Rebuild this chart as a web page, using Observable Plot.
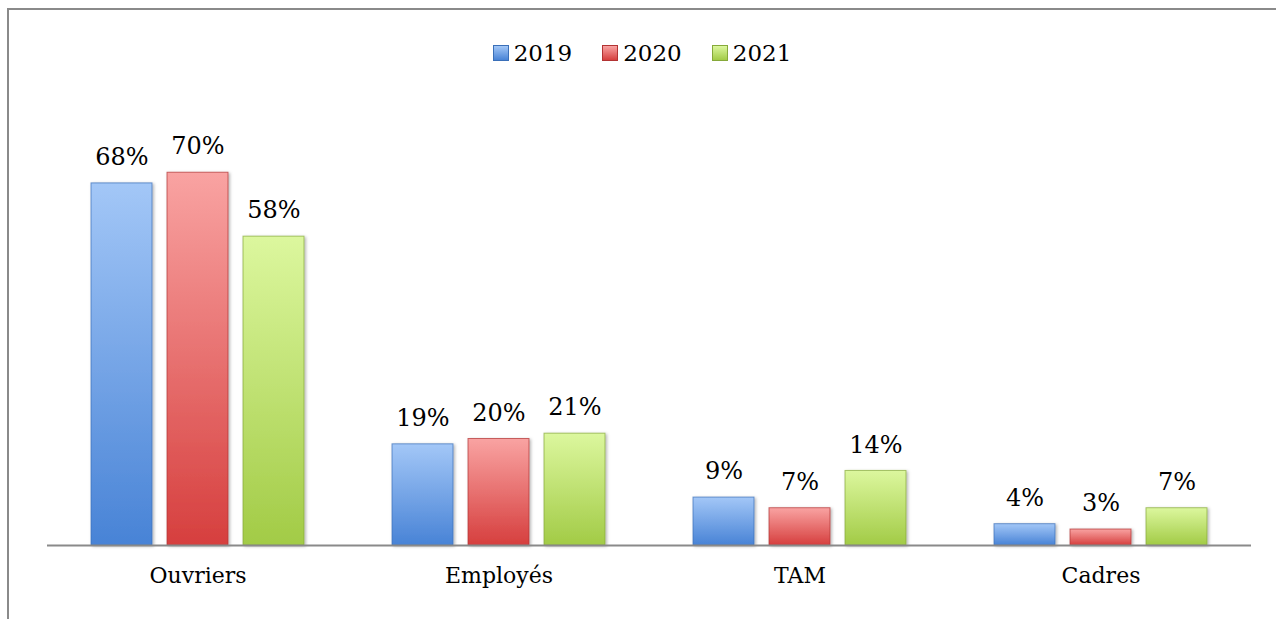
<!DOCTYPE html>
<html>
<head>
<meta charset="utf-8">
<script src="https://cdn.jsdelivr.net/npm/d3@7"></script>
<script src="https://cdn.jsdelivr.net/npm/@observablehq/plot@0.6"></script>
<style>
  body { margin: 0; background: #fff; }
  #wrap { position: relative; width: 1276px; height: 619px; overflow: hidden; font-family: "DejaVu Serif", serif; }
  #frame { position: absolute; left: 7px; top: 8px; right: -10px; bottom: -10px; border-top: 2px solid #8a8a8a; border-left: 2px solid #8a8a8a; }
  #legend { position: absolute; top: 40px; left: 4px; width: 1276px; display: flex; justify-content: center; align-items: center; font-size: 23px; color: #000; }
  .item { display: flex; align-items: center; margin: 0 15px; }
  .sw { width: 16px; height: 16px; margin-right: 5px; box-sizing: border-box; }
  #chart { position: absolute; left: 0; top: 90px; }
</style>
</head>
<body>
<div id="wrap">
  <div id="frame"></div>
  <div id="legend"></div>
  <div id="chart"></div>
</div>
<script>
const categories = ["Ouvriers", "Employés", "TAM", "Cadres"];
const years = ["2019", "2020", "2021"];
const values2019 = [68, 19, 9, 4];
const values2020 = [70, 20, 7, 3];
const values2021 = [58, 21, 14, 7];
const gradTop = ["#a3c7f7", "#f9a3a2", "#dcf79e"];
const gradBottom = ["#4883d6", "#d63f3e", "#a2cb46"];
const strokes = ["#3a6fb8", "#b23333", "#86a93a"];

const series = [values2019, values2020, values2021];
const data = [];
categories.forEach((c, i) => years.forEach((y, j) => data.push({category: c, year: y, value: series[j][i]})));

// legend
const legend = document.getElementById("legend");
years.forEach((y, j) => {
  const it = document.createElement("div");
  it.className = "item";
  const sw = document.createElement("div");
  sw.className = "sw";
  sw.style.background = `linear-gradient(${gradTop[j]}, ${gradBottom[j]})`;
  sw.style.border = `1px solid ${strokes[j]}`;
  const t = document.createElement("span");
  t.textContent = y;
  it.appendChild(sw); it.appendChild(t);
  legend.appendChild(it);
});

const chart = Plot.plot({
  width: 1276,
  height: 529,
  marginLeft: 46,
  marginRight: 25,
  marginTop: 29,
  marginBottom: 74,
  style: {fontFamily: "DejaVu Serif", fontSize: "22px", color: "#000", background: "transparent"},
  fx: {domain: categories, padding: 0, label: null},
  x: {domain: years, paddingInner: 0.2, paddingOuter: 0.58, axis: null},
  y: {domain: [0, 80], axis: null},
  color: {domain: years, range: years.map(y => `url(#g${y})`)},
  marks: [
    Plot.barY(data, {fx: "category", x: "year", y: "value", fill: "year"}),
    Plot.ruleY([0], {stroke: "#8a8a8a", strokeWidth: 2}),
    Plot.text(data, {fx: "category", x: "year", y: "value", text: d => d.value + "%", dy: -26, fontSize: 24, fill: "#000"}),
    Plot.axisFx({anchor: "bottom", tickSize: 0, tickPadding: 22, fontSize: 22, label: null})
  ]
});

const svg = d3.select(chart);
const defs = svg.insert("defs", ":first-child");
years.forEach((y, j) => {
  const g = defs.append("linearGradient").attr("id", "g" + y).attr("x1", 0).attr("y1", 0).attr("x2", 0).attr("y2", 1);
  g.append("stop").attr("offset", "0%").attr("stop-color", gradTop[j]);
  g.append("stop").attr("offset", "100%").attr("stop-color", gradBottom[j]);
});
const f = defs.append("filter").attr("id", "shadow").attr("x", "-20%").attr("y", "-20%").attr("width", "150%").attr("height", "150%");
f.append("feDropShadow").attr("dx", 1.5).attr("dy", 1).attr("stdDeviation", 1.5).attr("flood-color", "#000").attr("flood-opacity", 0.3);
svg.selectAll("rect").each(function() {
  const fill = this.getAttribute("fill") || "";
  const m = fill.match(/#g(\d{4})/);
  if (m) {
    const j = years.indexOf(m[1]);
    this.setAttribute("stroke", strokes[j]);
    this.setAttribute("stroke-opacity", 0.7);
    this.setAttribute("filter", "url(#shadow)");
  }
});
document.getElementById("chart").appendChild(chart);
</script>
</body>
</html>
